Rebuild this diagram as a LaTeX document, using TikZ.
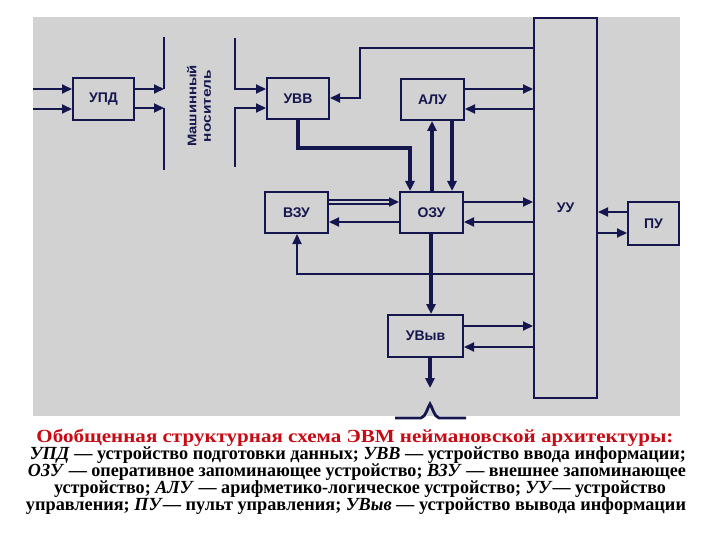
\documentclass[tikz,border=0pt]{standalone}
\usepackage{fontspec}
\setmainfont{Liberation Serif}
\newfontfamily\lblfont{Liberation Sans}
\usetikzlibrary{arrows.meta}
\definecolor{bgray}{RGB}{210,210,210}
\definecolor{ink}{RGB}{22,22,78}
\definecolor{capred}{RGB}{200,10,20}
\begin{document}
\begin{tikzpicture}[x=1pt,y=-1pt,
  blk/.style={draw=ink,line width=2pt,fill=bgray,inner sep=0pt,text=ink,
    font=\lblfont\bfseries\fontsize{14}{16}\selectfont},
  ln/.style={draw=ink,line width=2pt},
  ar/.style={ln,-{Triangle[length=10pt,width=9pt]}},
  thk/.style={line width=3.8pt},
  capline/.style={font=\bfseries\fontsize{18.5}{18.5}\selectfont,inner sep=0pt,anchor=center}
]
\useasboundingbox (0,0) rectangle (720,540);
\fill[white] (0,0) rectangle (720,540);
\fill[bgray] (33,17) rectangle (680,416);

% blocks
\node[blk,minimum width=61pt,minimum height=42pt] (upd) at (103.5,99) {УПД};
\node[blk,minimum width=62pt,minimum height=41pt] (uvv) at (298,98.5) {УВВ};
\node[blk,minimum width=63pt,minimum height=41pt] (alu) at (432.5,99.5) {АЛУ};
\node[blk,minimum width=63pt,minimum height=41pt] (ozu) at (431.5,212.5) {ОЗУ};
\node[blk,minimum width=63pt,minimum height=41pt] (vzu) at (296.5,212.5) {ВЗУ};
\node[blk,minimum width=75pt,minimum height=42pt] (uvyv) at (425.5,336) {УВыв};
\node[blk,minimum width=63pt,minimum height=380pt] (uu) at (565.5,208) {УУ};
\node[blk,minimum width=51pt,minimum height=43pt] (pu) at (653.5,223.5) {ПУ};

% machine medium
\node[rotate=90,text=ink,inner sep=0pt,align=center,
  font=\lblfont\bfseries\fontsize{12.5}{14.5}\selectfont] (medium) at (199,106)
  {\resizebox{82pt}{\height}{Машинный}\\\resizebox{72pt}{\height}{носитель}};
\coordinate (in1) at (33,89);
\coordinate (in2) at (33,109);
\coordinate (l1top) at (164,37);
\coordinate (l2bot) at (164,170);
\coordinate (r1top) at (235,38);
\coordinate (r2bot) at (235,167);

\draw[ar] (in1) -- (upd.west |- in1);
\draw[ar] (in2) -- (upd.west |- in2);
\draw[ln] (l1top) -- (164,89);
\draw[ln] (164,108) -- (l2bot);
\draw[ar] (upd.east |- 0,89) -- (164,89);
\draw[ar] (upd.east |- 0,108) -- (164,108);
\draw[ar] (r1top) -- (235,89) -- (uvv.west |- 0,89);
\draw[ar] (r2bot) -- (235,108) -- (uvv.west |- 0,108);

% control unit links
\draw[ar] (uu.west |- 0,48) -- (360,48) -- (360,98) -- (uvv.east |- 0,98);
\draw[ar] (alu.east |- 0,89) -- (uu.west |- 0,89);
\draw[ar] (uu.west |- 0,109) -- (alu.east |- 0,109);
\draw[ar] (ozu.east |- 0,202) -- (uu.west |- 0,202);
\draw[ar] (uu.west |- 0,222) -- (ozu.east |- 0,222);
\draw[ar] (uu.west |- 0,274) -- (297,274) -- (vzu.south -| 297,0);
\draw[ar] (uvyv.east |- 0,326) -- (uu.west |- 0,326);
\draw[ar] (uu.west |- 0,347) -- (uvyv.east |- 0,347);
\draw[ar] (pu.west |- 0,212) -- (uu.east |- 0,212);
\draw[ar] (uu.east |- 0,233) -- (pu.west |- 0,233);

% data links
\draw[ar,thk] (uvv.south) -- (298,148) -- (410,148) -- (ozu.north -| 410,0);
\draw[ar,thk] (ozu.north -| 432,0) -- (alu.south -| 432,0);
\draw[ar,thk] (alu.south -| 452,0) -- (ozu.north -| 452,0);
\draw[ar,thk] (ozu.south -| 431,0) -- (uvyv.north -| 431,0);
\draw[ar,line width=1.9pt,double=bgray,double distance=1.4pt] (vzu.east |- 0,202) -- (ozu.west |- 0,202);
\draw[ar] (ozu.west |- 0,222) -- (vzu.east |- 0,222);
\coordinate (outend) at (430,388);
\draw[ar,thk] (uvyv.south -| 430,0) -- (outend);
\draw[ink,line width=2.8pt] (395,418) -- (421,418) .. controls (426,417) and (428,406) .. (430,404)
  .. controls (432,406) and (434,417) .. (439,418) -- (466,418);

% caption
\node[capline,text=capred] (title) at (355,438)
  {\resizebox{637pt}{\height}{Обобщенная структурная схема ЭВМ неймановской архитектуры:}};
\node[capline] (cl1) at (358,455)
  {\resizebox{656pt}{\height}{\textit{УПД} — устройство подготовки данных; \textit{УВВ} — устройство ввода информации;}};
\node[capline] (cl2) at (357,472)
  {\resizebox{658pt}{\height}{\textit{ОЗУ} — оперативное запоминающее устройство; \textit{ВЗУ} — внешнее запоминающее}};
\node[capline] (cl3) at (360,489)
  {\resizebox{612pt}{\height}{устройство; \textit{АЛУ} — арифметико-логическое устройство; \textit{УУ}— устройство}};
\node[capline] (cl4) at (356,506)
  {\resizebox{660pt}{\height}{управления; \textit{ПУ}— пульт управления; \textit{УВыв} — устройство вывода информации}};
\end{tikzpicture}
\end{document}
